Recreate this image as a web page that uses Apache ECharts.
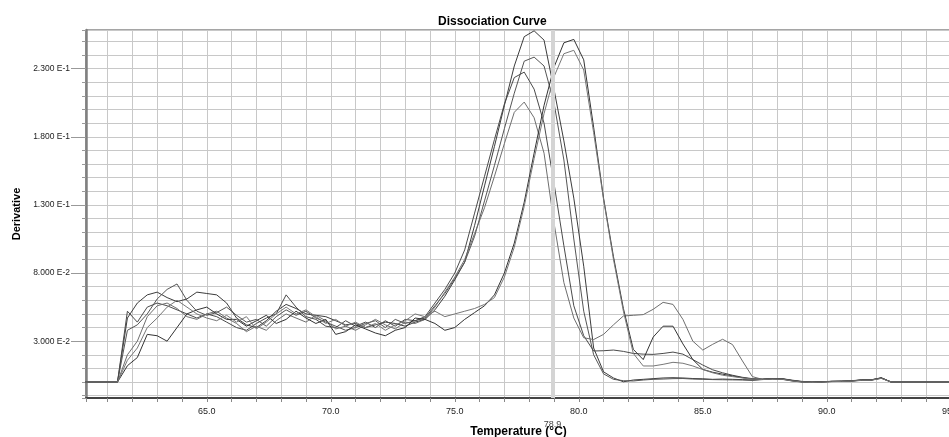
<!DOCTYPE html>
<html>
<head>
<meta charset="utf-8">
<title>Dissociation Curve</title>
<script src="https://cdn.jsdelivr.net/npm/echarts@6/dist/echarts.min.js"></script>
<style>
    html, body { margin: 0; padding: 0; background: #fff; }
    #chart { width: 949px; height: 437px; }
</style>
</head>
<body>
<div id="chart"></div>
<script>
    // temperature (°C) of each reading
    var temps = [
        60.0, 61.4, 61.8, 62.2, 62.6, 63.0, 63.4, 63.8, 64.2, 64.6,
        65.0, 65.4, 65.8, 66.2, 66.6, 67.0, 67.4, 67.8, 68.2, 68.6,
        69.0, 69.4, 69.8, 70.2, 70.6, 71.0, 71.4, 71.8, 72.2, 72.6,
        73.0, 73.4, 73.8, 74.2, 74.6, 75.0, 75.4, 75.8, 76.2, 76.6,
        77.0, 77.4, 77.8, 78.2, 78.6, 79.0, 79.4, 79.8, 80.2, 80.6,
        81.0, 81.4, 81.8, 82.2, 82.6, 83.0, 83.4, 83.8, 84.2, 84.6,
        85.0, 85.4, 85.8, 86.2, 86.6, 87.0, 87.4, 87.8, 88.2, 88.6,
        89.0, 89.4, 89.8, 90.2, 90.6, 91.0, 91.4, 91.8, 92.2, 92.6,
        96.0
    ];

    // derivative of each well, same order as temps
    var well1 = [
        0, 0, 0.047, 0.058, 0.064, 0.066, 0.062, 0.059, 0.061, 0.066,
        0.065, 0.064, 0.058, 0.047, 0.042, 0.040, 0.045, 0.052, 0.057, 0.054,
        0.050, 0.049, 0.048, 0.045, 0.042, 0.043, 0.040, 0.042, 0.044, 0.043,
        0.041, 0.044, 0.046, 0.053, 0.063, 0.075, 0.088, 0.115, 0.144, 0.173,
        0.203, 0.232, 0.2535, 0.2578, 0.251, 0.215, 0.177, 0.135, 0.085, 0.025,
        0.0075, 0.003, 0.0002, 0.0015, 0.002, 0.0025, 0.003, 0.0032, 0.003, 0.0026,
        0.0024, 0.002, 0.0022, 0.002, 0.0018, 0.0015, 0.002, 0.0025, 0.0024, 0.0012,
        0.0003, 0.0, 0.0001, 0.0005, 0.0006, 0.0009, 0.0015, 0.0016, 0.003, 0,
        0
    ];
    var well2 = [
        0, 0, 0.038, 0.042, 0.050, 0.061, 0.068, 0.072, 0.060, 0.052,
        0.049, 0.051, 0.055, 0.049, 0.044, 0.046, 0.041, 0.048, 0.053, 0.049,
        0.052, 0.047, 0.044, 0.041, 0.038, 0.040, 0.043, 0.045, 0.040, 0.046,
        0.043, 0.045, 0.047, 0.056, 0.065, 0.076, 0.088, 0.107, 0.133, 0.159,
        0.186, 0.212, 0.2355, 0.2385, 0.232, 0.205, 0.163, 0.105, 0.052, 0.020,
        0.006, 0.002, 0.001, 0.0008, 0.0015, 0.002, 0.0022, 0.0025, 0.0026, 0.0022,
        0.002, 0.0018, 0.0017, 0.0016, 0.0015, 0.0012, 0.0018, 0.0022, 0.002, 0.0008,
        0.0, -0.0003, 0.0002, 0.0004, 0.0005, 0.0007, 0.0012, 0.0014, 0.0028, 0,
        0
    ];
    var well3 = [
        0, 0, 0.052, 0.044, 0.055, 0.058, 0.056, 0.053, 0.050, 0.047,
        0.050, 0.048, 0.044, 0.040, 0.038, 0.043, 0.047, 0.050, 0.064, 0.055,
        0.048, 0.046, 0.041, 0.040, 0.045, 0.041, 0.044, 0.040, 0.045, 0.041,
        0.046, 0.045, 0.048, 0.058, 0.068, 0.080, 0.097, 0.124, 0.151, 0.178,
        0.204, 0.2235, 0.2275, 0.215, 0.190, 0.146, 0.100, 0.056, 0.034, 0.0228,
        0.023, 0.0235, 0.0225, 0.021, 0.0205, 0.0203, 0.021, 0.022, 0.0205, 0.0165,
        0.0125, 0.009, 0.0068, 0.005, 0.0035, 0.0025, 0.0022, 0.0026, 0.0025, 0.0014,
        0.0005, 0.0001, 0.0002, 0.0006, 0.0007, 0.001, 0.0016, 0.0017, 0.0032, 0,
        0
    ];
    var well4 = [
        0, 0, 0.020, 0.030, 0.048, 0.056, 0.058, 0.054, 0.048, 0.046,
        0.050, 0.052, 0.047, 0.043, 0.037, 0.041, 0.038, 0.045, 0.050, 0.047,
        0.044, 0.049, 0.045, 0.039, 0.041, 0.038, 0.042, 0.046, 0.042, 0.039,
        0.044, 0.043, 0.046, 0.055, 0.066, 0.077, 0.090, 0.109, 0.128, 0.151,
        0.175, 0.198, 0.2055, 0.194, 0.168, 0.117, 0.073, 0.047, 0.0325, 0.0312,
        0.035, 0.042, 0.0485, 0.049, 0.0495, 0.0534, 0.0585, 0.057, 0.046, 0.030,
        0.0235, 0.0277, 0.0314, 0.0275, 0.0155, 0.004, 0.002, 0.0024, 0.0022, 0.001,
        0.0002, 0.0, 0.0, 0.0004, 0.0005, 0.0008, 0.0014, 0.0015, 0.0029, 0,
        0
    ];
    var well5 = [
        0, 0, 0.012, 0.018, 0.035, 0.034, 0.030, 0.040, 0.050, 0.053,
        0.055, 0.050, 0.046, 0.046, 0.041, 0.045, 0.049, 0.043, 0.046, 0.052,
        0.047, 0.043, 0.046, 0.035, 0.037, 0.042, 0.039, 0.036, 0.034, 0.038,
        0.040, 0.047, 0.046, 0.043, 0.038, 0.040, 0.046, 0.051, 0.056, 0.064,
        0.080, 0.102, 0.132, 0.168, 0.203, 0.231, 0.249, 0.2515, 0.2365, 0.187,
        0.135, 0.092, 0.054, 0.024, 0.0165, 0.033, 0.041, 0.041, 0.028, 0.0165,
        0.0093, 0.0072, 0.0058, 0.0045, 0.0032, 0.0022, 0.002, 0.0025, 0.0023, 0.0011,
        0.0002, -0.0002, 0.0001, 0.0005, 0.0006, 0.0008, 0.0015, 0.0015, 0.003, 0,
        0
    ];
    var well6 = [
        0, 0, 0.016, 0.025, 0.040, 0.047, 0.055, 0.060, 0.055, 0.050,
        0.047, 0.045, 0.049, 0.044, 0.048, 0.039, 0.044, 0.050, 0.055, 0.050,
        0.053, 0.048, 0.043, 0.046, 0.041, 0.044, 0.040, 0.043, 0.038, 0.042,
        0.045, 0.050, 0.048, 0.052, 0.048, 0.050, 0.052, 0.054, 0.057, 0.062,
        0.077, 0.099, 0.129, 0.164, 0.197, 0.224, 0.241, 0.2435, 0.229, 0.183,
        0.134, 0.090, 0.052, 0.021, 0.0118, 0.0118, 0.013, 0.0145, 0.0138, 0.0118,
        0.0092, 0.0068, 0.005, 0.004, 0.003, 0.0022, 0.0019, 0.0023, 0.0021, 0.0009,
        0.0001, -0.0003, 0.0, 0.0003, 0.0005, 0.0007, 0.0013, 0.0014, 0.0027, 0,
        0
    ];

    var wells = [well1, well2, well3, well4, well5, well6];
    var wellColors = ['#3c3c3c', '#555555', '#4a4a4a', '#6e6e6e', '#333333', '#777777'];

    // labelled values of the derivative axis
    var yLabelValues = [0.03, 0.08, 0.13, 0.18, 0.23];
    var meltTemp = 78.94;
    var meltLabel = '78.9';

    var font = "'Liberation Sans', Arial, sans-serif";

    function sciLabel(v) {
        var e = Math.floor(Math.log10(Math.abs(v)));
        var m = v / Math.pow(10, e);
        return m.toFixed(3) + ' E' + e;
    }

    function tempLabel(v) {
        var r = Math.round(v);
        if (Math.abs(v - r) > 1e-6 || r % 5 !== 0) return '';
        return r.toFixed(1);
    }

    var chart = echarts.init(document.getElementById('chart'), null, { renderer: 'canvas' });

    var series = wells.map(function (vals, i) {
        return {
            name: 'well' + (i + 1),
            type: 'line',
            data: temps.map(function (t, j) { return [t, vals[j]]; }),
            symbol: 'none',
            silent: true,
            lineStyle: { color: wellColors[i], width: 1 },
            emphasis: { disabled: true }
        };
    });

    series[0].markLine = {
        silent: true,
        symbol: 'none',
        animation: false,
        lineStyle: { color: '#d4d4d4', width: 4, type: 'solid' },
        label: {
            show: true,
            position: 'start',
            distance: 22,
            formatter: meltLabel,
            fontSize: 9,
            color: '#444',
            fontFamily: font
        },
        emphasis: { disabled: true },
        data: [{ xAxis: meltTemp }]
    };

    var option = {
        backgroundColor: '#fff',
        animation: false,
        title: {
            text: 'Dissociation Curve',
            left: 438,
            top: 16,
            padding: 0,
            textStyle: { fontSize: 12, fontWeight: 'bold', color: '#000', fontFamily: font }
        },
        grid: {
            left: 86, right: -2, top: 30, bottom: 39,
            outerBoundsMode: 'none',
            containLabel: false,
            show: true, borderColor: '#4a4a4a', borderWidth: 1
        },
        xAxis: {
            type: 'value',
            min: 60.13,
            max: 95.01,
            minInterval: 1,
            maxInterval: 1,
            name: 'Temperature (°C)',
            nameLocation: 'middle',
            nameGap: 28,
            nameTextStyle: { fontSize: 12, fontWeight: 'bold', color: '#000', fontFamily: font },
            axisLine: { onZero: false, lineStyle: { color: '#444', width: 2 } },
            axisTick: { show: true, length: 4, lineStyle: { color: '#888' } },
            splitLine: { show: true, lineStyle: { color: '#c8c8c8', width: 1 } },
            axisLabel: { formatter: tempLabel, fontSize: 9, color: '#222', margin: 9, fontFamily: font }
        },
        yAxis: [
            {
                type: 'value',
                position: 'left',
                min: -0.0117,
                max: 0.2584,
                minInterval: 0.01,
                maxInterval: 0.01,
                name: 'Derivative',
                nameLocation: 'middle',
                nameGap: 64,
                nameTextStyle: { fontSize: 11, fontWeight: 'bold', color: '#000', fontFamily: font },
                axisLine: { show: true, onZero: false, lineStyle: { color: '#808080', width: 2.5 } },
                axisTick: { show: true, length: 4, lineStyle: { color: '#999' } },
                splitLine: { show: true, lineStyle: { color: '#c8c8c8', width: 1 } },
                axisLabel: { show: false }
            },
            {
                type: 'value',
                position: 'left',
                min: -0.0117,
                max: 0.2584,
                axisLine: { show: false, onZero: false },
                splitLine: { show: false },
                axisTick: { show: true, length: 15, customValues: yLabelValues, lineStyle: { color: '#999' } },
                axisLabel: {
                    customValues: yLabelValues,
                    formatter: sciLabel,
                    fontSize: 8.5,
                    color: '#222',
                    margin: 16,
                    fontFamily: font
                }
            }
        ],
        series: series
    };

    chart.setOption(option);
</script>
</body>
</html>
